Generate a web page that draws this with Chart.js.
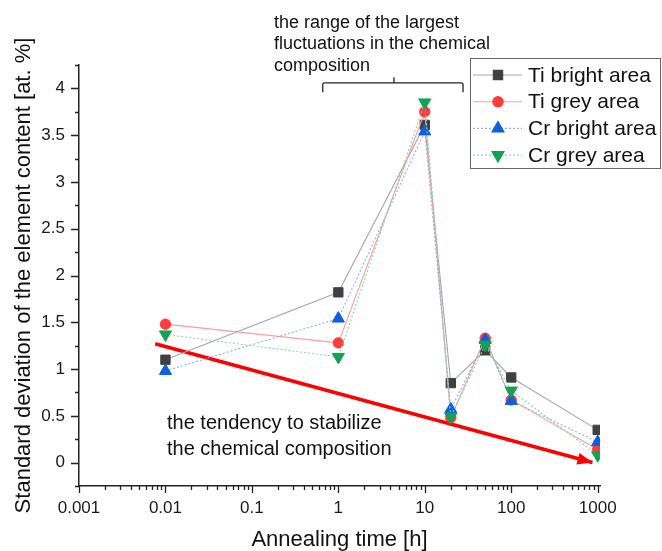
<!DOCTYPE html>
<html>
<head>
<meta charset="utf-8">
<title>Standard deviation vs annealing time</title>
<script src="https://cdn.jsdelivr.net/npm/chart.js@4.4.1/dist/chart.umd.min.js"></script>
<style>
    html, body { margin: 0; padding: 0; background: #fff; }
    #wrap { width: 662px; height: 551px; }
</style>
</head>
<body>
<div id="wrap"><canvas id="chart" width="662" height="551"></canvas></div>
<script>
// annealing time [h]
const times = [0.01, 1, 10, 20, 50, 100, 1000];

// standard deviation of the element content [at. %]
const tiBright = [1.10, 1.82, 3.61, 0.85, 1.20, 0.91, 0.35];
const tiGrey = [1.48, 1.28, 3.75, 0.48, 1.33, 0.67, 0.14];
const crBright = [0.98, 1.54, 3.54, 0.57, 1.31, 0.66, 0.22];
const crGrey = [1.37, 1.13, 3.85, 0.49, 1.26, 0.77, 0.08];

const xTickValues = [0.001, 0.01, 0.1, 1, 10, 100, 1000];
const xTickLabels = ["0.001", "0.01", "0.1", "1", "10", "100", "1000"];
const yTickValues = [0, 0.5, 1, 1.5, 2, 2.5, 3, 3.5, 4];
const yTickLabels = ["0", "0.5", "1", "1.5", "2", "2.5", "3", "3.5", "4"];

// red trend arrow and the brace above the peak
const trendTimes = [0.0076, 870];
const trendValues = [1.27, 0];
const braceTimes = [0.66, 4.4, 27.7];
const braceValues = [3.96, 4.06, 4.12];

const topNote = ["the range of the largest", "fluctuations in the chemical", "composition"];
const trendNote = ["the tendency to stabilize", "the chemical composition"];

const FONT = "'Liberation Sans', Arial, sans-serif";

const series = [
    { label: "Ti bright area", values: tiBright, line: "#a6a6a6", mark: "#404040", style: "rect", radius: 6.6, rotation: 0, dash: [] },
    { label: "Ti grey area", values: tiGrey, line: "#ff9c9c", mark: "#ff3b3b", style: "circle", radius: 5.2, rotation: 0, dash: [] },
    { label: "Cr bright area", values: crBright, line: "#86b4f2", mark: "#0b5fe3", style: "triangle", radius: 7, rotation: 0, dash: [2, 2] },
    { label: "Cr grey area", values: crGrey, line: "#86d8aa", mark: "#10a352", style: "triangle", radius: 7, rotation: 180, dash: [2, 2] }
];

const datasets = series.map((s, i) => ({
    label: s.label,
    data: times.map((t, j) => ({ x: t, y: s.values[j] })),
    borderColor: s.line,
    borderWidth: 1.1,
    borderDash: s.dash,
    backgroundColor: s.mark,
    pointBackgroundColor: s.mark,
    pointBorderColor: s.mark,
    pointBorderWidth: 1,
    pointStyle: s.style,
    pointRadius: s.radius,
    pointRotation: s.rotation,
    tension: 0,
    order: series.length - i
}));

datasets.push({
    label: "trend",
    data: trendTimes.map((t, j) => ({ x: t, y: trendValues[j] })),
    borderColor: "#ff0000",
    borderWidth: 3.6,
    pointRadius: 0,
    tension: 0,
    order: 10
});

const yMinorValues = [-0.25].concat(yTickValues.map(v => v + 0.25));
const xMinorValues = [];
xTickValues.slice(0, -1).forEach(d => {
    for (let k = 2; k <= 9; k++) xMinorValues.push(d * k);
});

const axisTicks = {
    id: "axisTicks",
    afterDraw(chart) {
        const { ctx, chartArea } = chart;
        const x = chart.scales.x;
        const y = chart.scales.y;
        ctx.save();
        ctx.strokeStyle = "#222";
        ctx.lineWidth = 1.3;
        ctx.beginPath();
        yTickValues.forEach(v => {
            const py = Math.round(y.getPixelForValue(v)) + 0.5;
            ctx.moveTo(chartArea.left - 8, py);
            ctx.lineTo(chartArea.left, py);
        });
        yMinorValues.forEach(v => {
            const py = Math.round(y.getPixelForValue(v)) + 0.5;
            ctx.moveTo(chartArea.left - 4, py);
            ctx.lineTo(chartArea.left, py);
        });
        xTickValues.forEach(v => {
            const px = Math.round(x.getPixelForValue(v)) + 0.5;
            ctx.moveTo(px, chartArea.bottom);
            ctx.lineTo(px, chartArea.bottom + 7);
        });
        xMinorValues.forEach(v => {
            const px = Math.round(x.getPixelForValue(v)) + 0.5;
            ctx.moveTo(px, chartArea.bottom);
            ctx.lineTo(px, chartArea.bottom + 4);
        });
        ctx.stroke();
        ctx.restore();
    }
};

const annotations = {
    id: "annotations",
    afterDatasetsDraw(chart) {
        const { ctx } = chart;
        const x = chart.scales.x;
        const y = chart.scales.y;
        ctx.save();

        // arrow head at the end of the trend line
        const meta = chart.getDatasetMeta(datasets.length - 1);
        const p0 = meta.data[0];
        const p1 = meta.data[1];
        const ang = Math.atan2(p1.y - p0.y, p1.x - p0.x);
        const len = 15, half = 6;
        ctx.fillStyle = "#ff0000";
        ctx.beginPath();
        ctx.moveTo(p1.x, p1.y);
        ctx.lineTo(p1.x - len * Math.cos(ang) + half * Math.sin(ang), p1.y - len * Math.sin(ang) - half * Math.cos(ang));
        ctx.lineTo(p1.x - len * Math.cos(ang) - half * Math.sin(ang), p1.y - len * Math.sin(ang) + half * Math.cos(ang));
        ctx.closePath();
        ctx.fill();

        // brace
        const bx0 = x.getPixelForValue(braceTimes[0]);
        const bxm = x.getPixelForValue(braceTimes[1]);
        const bx1 = x.getPixelForValue(braceTimes[2]);
        const yEnd = y.getPixelForValue(braceValues[0]);
        const yMid = y.getPixelForValue(braceValues[1]);
        const yTip = y.getPixelForValue(braceValues[2]);
        ctx.strokeStyle = "#222";
        ctx.lineWidth = 1.3;
        ctx.beginPath();
        ctx.moveTo(bx0, yEnd);
        ctx.lineTo(bx0, yMid + 2);
        ctx.quadraticCurveTo(bx0, yMid, bx0 + 2, yMid);
        ctx.lineTo(bx1 - 2, yMid);
        ctx.quadraticCurveTo(bx1, yMid, bx1, yMid + 2);
        ctx.lineTo(bx1, yEnd);
        ctx.moveTo(bxm, yMid);
        ctx.lineTo(bxm, yTip);
        ctx.stroke();

        // notes
        ctx.fillStyle = "#111";
        ctx.textBaseline = "middle";
        ctx.textAlign = "left";
        ctx.font = "18px " + FONT;
        topNote.forEach((t, i) => ctx.fillText(t, 274, 23 + i * 21.5));
        ctx.font = "20px " + FONT;
        trendNote.forEach((t, i) => ctx.fillText(t, 167, 423 + i * 26));

        // legend
        const lx = 470, ly = 58, lw = 190, lh = 110;
        ctx.fillStyle = "#fff";
        ctx.fillRect(lx, ly, lw, lh);
        ctx.strokeStyle = "#666";
        ctx.lineWidth = 1;
        ctx.strokeRect(lx + 0.5, ly + 0.5, lw, lh);
        series.forEach((s, i) => {
            const ry = 75 + i * 26.7;
            ctx.strokeStyle = s.line;
            ctx.lineWidth = 1.1;
            ctx.setLineDash(s.dash);
            ctx.beginPath();
            ctx.moveTo(473, ry);
            ctx.lineTo(522, ry);
            ctx.stroke();
            ctx.setLineDash([]);
            ctx.fillStyle = s.mark;
            ctx.strokeStyle = s.mark;
            Chart.helpers.drawPoint(ctx, {
                pointStyle: s.style,
                radius: s.radius,
                rotation: s.rotation,
                borderWidth: 1
            }, 498, ry);
            ctx.fillStyle = "#111";
            ctx.font = "21px " + FONT;
            ctx.fillText(s.label, 528, ry + 1);
        });
        ctx.restore();
    }
};

new Chart(document.getElementById("chart"), {
    type: "line",
    data: { datasets: datasets },
    options: {
        responsive: false,
        devicePixelRatio: 1,
        animation: false,
        layout: { padding: { top: 65, right: 62, left: 0, bottom: 0 } },
        plugins: {
            legend: { display: false },
            tooltip: { enabled: false }
        },
        scales: {
            x: {
                type: "logarithmic",
                min: 0.001,
                max: 1064,
                grid: { display: false, drawTicks: false },
                border: { display: true, color: "#222", width: 1.5 },
                afterBuildTicks: scale => {
                    scale.ticks = xTickValues.map(v => ({ value: v }));
                },
                afterFit: scale => { scale.height = 65; },
                ticks: {
                    autoSkip: false,
                    maxRotation: 0,
                    padding: 12,
                    color: "#1a1a1a",
                    font: { family: FONT, size: 17 },
                    callback: (value, index) => xTickLabels[index]
                },
                title: {
                    display: true,
                    text: "Annealing time [h]",
                    color: "#111",
                    font: { family: FONT, size: 22, lineHeight: 1 },
                    padding: { top: 0, bottom: 0 }
                }
            },
            y: {
                type: "linear",
                min: -0.25,
                max: 4.25,
                grid: { display: false, drawTicks: false },
                border: { display: true, color: "#222", width: 1.5 },
                afterBuildTicks: scale => {
                    scale.ticks = yTickValues.map(v => ({ value: v }));
                },
                afterFit: scale => { scale.width = 79; },
                ticks: {
                    autoSkip: false,
                    padding: 14,
                    color: "#1a1a1a",
                    font: { family: FONT, size: 17 },
                    callback: (value, index) => yTickLabels[index]
                },
                title: {
                    display: true,
                    text: "Standard deviation of the element content [at. %]",
                    color: "#111",
                    font: { family: FONT, size: 22, lineHeight: 1 },
                    padding: { top: 13, bottom: 0 }
                }
            }
        }
    },
    plugins: [axisTicks, annotations]
});
</script>
</body>
</html>
